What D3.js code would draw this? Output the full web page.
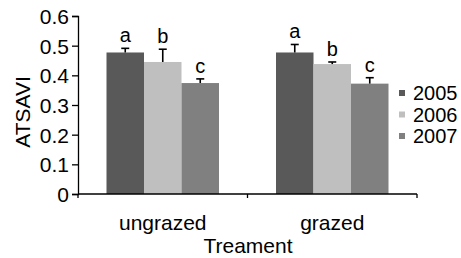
<!DOCTYPE html>
<html>
<head>
<meta charset="utf-8">
<script src="https://cdn.jsdelivr.net/npm/d3@7"></script>
<style>
  body { margin: 0; background: #fff; }
  text { font-family: "Liberation Sans", Arial, sans-serif; fill: #000; }
</style>
</head>
<body>
<div id="graf"></div>
<script>
const treatments = ["ungrazed", "grazed"]
const years = ["2005", "2006", "2007"]
const colores = ["#595959", "#bfbfbf", "#808080"]
// means per treatment, in year order
const medias = [
  [0.477, 0.445, 0.374],
  [0.477, 0.438, 0.372],
]
const errores = [
  [0.014, 0.043, 0.014],
  [0.027, 0.007, 0.020],
]
const letras = [
  ["a", "b", "c"],
  ["a", "b", "c"],
]
const yTicks = [0, 0.1, 0.2, 0.3, 0.4, 0.5, 0.6]

const data = []
treatments.forEach((t, i) => {
  years.forEach((yr, j) => {
    data.push({ t, yr, v: medias[i][j], e: errores[i][j], l: letras[i][j] })
  })
})

const anchoTotal = 461
const altoTotal = 258

const svg = d3.select("#graf")
  .append("svg")
  .attr("width", anchoTotal)
  .attr("height", altoTotal)

const x0 = d3.scaleBand().domain(treatments).range([78, 417]).padding(0)
const x1 = d3.scaleBand().domain(years).range([0, x0.bandwidth()]).paddingOuter(0.76).paddingInner(0)
const y = d3.scaleLinear().domain([0, 0.6]).range([194, 16])
const color = d3.scaleOrdinal().domain(years).range(colores)

// bars
svg.append("g")
  .selectAll("rect")
  .data(data)
  .join("rect")
  .attr("x", (d) => x0(d.t) + x1(d.yr))
  .attr("y", (d) => y(d.v))
  .attr("width", x1.bandwidth())
  .attr("height", (d) => y(0) - y(d.v))
  .attr("fill", (d) => color(d.yr))

// error bars (upper only)
const eb = svg.append("g").attr("stroke", "#000").attr("stroke-width", 1.6)
eb.selectAll("line.v")
  .data(data)
  .join("line")
  .attr("class", "v")
  .attr("x1", (d) => x0(d.t) + x1(d.yr) + x1.bandwidth() / 2)
  .attr("x2", (d) => x0(d.t) + x1(d.yr) + x1.bandwidth() / 2)
  .attr("y1", (d) => y(d.v))
  .attr("y2", (d) => y(d.v + d.e))
eb.selectAll("line.c")
  .data(data)
  .join("line")
  .attr("class", "c")
  .attr("x1", (d) => x0(d.t) + x1(d.yr) + x1.bandwidth() / 2 - 4)
  .attr("x2", (d) => x0(d.t) + x1(d.yr) + x1.bandwidth() / 2 + 4)
  .attr("y1", (d) => y(d.v + d.e))
  .attr("y2", (d) => y(d.v + d.e))

// letters
svg.append("g")
  .selectAll("text")
  .data(data)
  .join("text")
  .attr("x", (d) => x0(d.t) + x1(d.yr) + x1.bandwidth() / 2)
  .attr("y", (d) => y(d.v + d.e) - 6)
  .attr("text-anchor", "middle")
  .style("font-size", "20px")
  .text((d) => d.l)

// y axis
const yAxis = svg.append("g")
  .attr("transform", "translate(78,0)")
  .call(d3.axisLeft(y).tickValues(yTicks).tickSize(6).tickPadding(3)
    .tickFormat((d) => (d === 0 ? "0" : d3.format(".1f")(d))))
yAxis.selectAll("text").style("font-size", "21px").attr("dy", "0.36em")
yAxis.select(".domain").attr("stroke-width", 1.3)
yAxis.selectAll(".tick line").attr("stroke-width", 1.3)

// x axis
const xAxis = svg.append("g").attr("transform", "translate(0,194)")
xAxis.append("line")
  .attr("x1", x0.range()[0]).attr("x2", x0.range()[1])
  .attr("stroke", "#000").attr("stroke-width", 1.3)
xAxis.selectAll("line.tk")
  .data([...treatments.map((t) => x0(t)), x0.range()[1]])
  .join("line")
  .attr("class", "tk")
  .attr("x1", (d) => d).attr("x2", (d) => d)
  .attr("y1", 0).attr("y2", 4)
  .attr("stroke", "#000").attr("stroke-width", 1.3)
xAxis.selectAll("text")
  .data(treatments)
  .join("text")
  .attr("x", (d) => x0(d) + x0.bandwidth() / 2)
  .attr("y", 36)
  .attr("text-anchor", "middle")
  .style("font-size", "21px")
  .text((d) => d)

// axis titles
svg.append("text")
  .attr("x", 248)
  .attr("y", 253)
  .attr("text-anchor", "middle")
  .style("font-size", "21px")
  .text("Treament")

svg.append("text")
  .attr("transform", "translate(30,112) rotate(-90)")
  .attr("text-anchor", "middle")
  .style("font-size", "21px")
  .text("ATSAVI")

// legend
const leg = svg.append("g")
  .selectAll("g")
  .data(years)
  .join("g")
  .attr("transform", (d, i) => `translate(399, ${93 + i * 21.5})`)
leg.append("rect")
  .attr("x", 0).attr("y", -3)
  .attr("width", 6).attr("height", 6)
  .attr("fill", (d) => color(d))
leg.append("text")
  .attr("x", 14)
  .attr("y", 0)
  .attr("dy", "0.36em")
  .style("font-size", "20px")
  .text((d) => d)
</script>
</body>
</html>
